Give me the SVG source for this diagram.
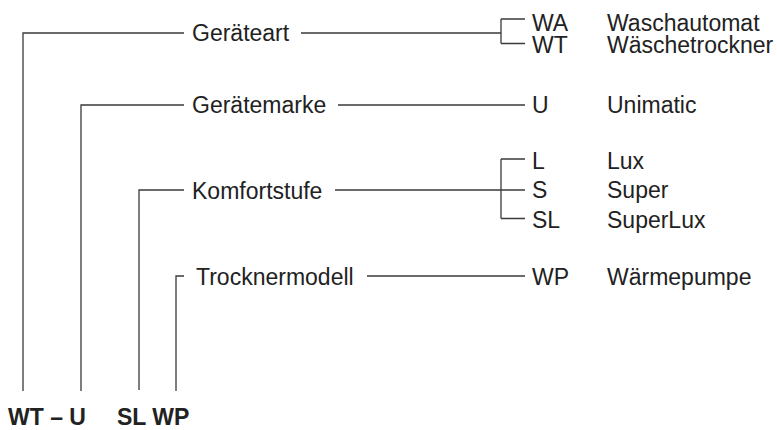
<svg xmlns="http://www.w3.org/2000/svg" width="777" height="430" viewBox="0 0 777 430">
<style>
.ln{fill:none;stroke:#3a3a3a;stroke-width:1.3}
.t{font-family:"Liberation Sans",Arial,sans-serif;font-size:23px;fill:#222}
.b{font-family:"Liberation Sans",Arial,sans-serif;font-size:23px;font-weight:bold;fill:#222}
</style>
<rect width="777" height="430" fill="#fff"/>
<g id="connectors">
<path class="ln" d="M23,391 V33 H184 M301,33 H501 M501,19 V43.5 M501,19 H525 M501,43.5 H525"/>
<path class="ln" d="M81,391 V105 H184 M338,105 H525"/>
<path class="ln" d="M139,390 V190 H184 M335,190 H525 M501,159 V218.5 M501,159 H525 M501,218.5 H525"/>
<path class="ln" d="M176,391 V276 H184 M367,276 H525"/>
</g>
<g id="node-geraeteart"><text class="t" x="192" y="40.5">Geräteart</text></g>
<g id="node-geraetemarke"><text class="t" x="192" y="113">Gerätemarke</text></g>
<g id="node-komfortstufe"><text class="t" x="192" y="198.5">Komfortstufe</text></g>
<g id="node-trocknermodell"><text class="t" x="196" y="284.5">Trocknermodell</text></g>
<g id="node-wa"><text class="t" x="532" y="31">WA</text><text class="t" x="607" y="31">Waschautomat</text></g>
<g id="node-wt"><text class="t" x="532" y="53">WT</text><text class="t" x="607" y="53">Wäschetrockner</text></g>
<g id="node-u"><text class="t" x="532" y="113">U</text><text class="t" x="607" y="113">Unimatic</text></g>
<g id="node-l"><text class="t" x="532" y="169">L</text><text class="t" x="607" y="169">Lux</text></g>
<g id="node-s"><text class="t" x="532" y="198">S</text><text class="t" x="607" y="198">Super</text></g>
<g id="node-sl"><text class="t" x="532" y="228">SL</text><text class="t" x="607" y="228">SuperLux</text></g>
<g id="node-wp"><text class="t" x="532" y="284.5">WP</text><text class="t" x="607" y="284.5">Wärmepumpe</text></g>
<g id="node-code"><text class="b" x="8" y="425">WT – U</text><text class="b" x="117" y="425">SL WP</text></g>
</svg>
